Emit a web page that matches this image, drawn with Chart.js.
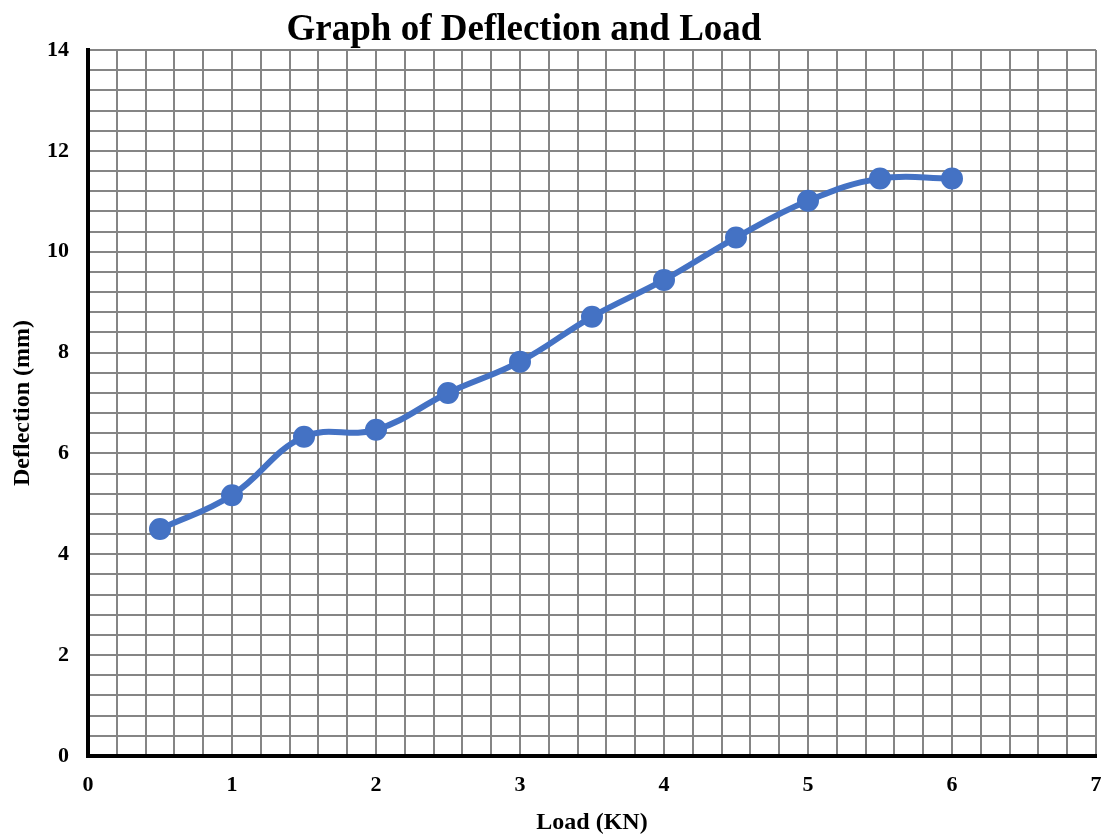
<!DOCTYPE html>
<html>
<head>
<meta charset="utf-8">
<script src="https://cdn.jsdelivr.net/npm/chart.js@4/dist/chart.umd.min.js"></script>
<style>
  html, body { margin: 0; padding: 0; background: #fff; }
  #wrap { position: relative; width: 1110px; height: 837px; }
</style>
</head>
<body>
<div id="wrap"><canvas id="c" width="1110" height="837"></canvas></div>
<script>
const chartTitle = 'Graph of Deflection and Load';
const xAxisTitle = 'Load (KN)';
const yAxisTitle = 'Deflection (mm)';
const loads = [0.5, 1, 1.5, 2, 2.5, 3, 3.5, 4, 4.5, 5, 5.5, 6];
const deflections = [4.5, 5.17, 6.33, 6.47, 7.2, 7.82, 8.71, 9.44, 10.28, 11.01, 11.45, 11.45];
const xRange = [0, 7];
const yRange = [0, 14];
const xGridStep = 0.2, xLabelStep = 1;
const yGridStep = 0.4, yLabelStep = 2;

const FONT = "'Liberation Serif', 'Times New Roman', serif";
const BLUE = '#4472C4';
const GRID = '#858585';

function isMultiple(v, step) {
  const r = v / step;
  return Math.abs(r - Math.round(r)) < 1e-6;
}

const titlePlugin = {
  id: 'topTitle',
  afterDraw(chart) {
    const ctx = chart.ctx;
    ctx.save();
    ctx.font = 'bold 37px ' + FONT;
    ctx.fillStyle = '#000';
    ctx.textAlign = 'center';
    ctx.textBaseline = 'alphabetic';
    ctx.fillText(chartTitle, 524, 40);
    ctx.restore();
  }
};

new Chart(document.getElementById('c'), {
  type: 'line',
  data: {
    datasets: [{
      label: yAxisTitle,
      data: loads.map((x, i) => ({ x: x, y: deflections[i] })),
      borderColor: BLUE,
      backgroundColor: BLUE,
      borderWidth: 6,
      pointRadius: 10,
      pointBorderWidth: 2,
      pointBorderColor: BLUE,
      pointBackgroundColor: BLUE,
      tension: 0.4,
      fill: false
    }]
  },
  options: {
    responsive: false,
    animation: false,
    layout: { padding: { top: 50, right: 14, left: 0, bottom: 0 } },
    plugins: {
      legend: { display: false },
      title: { display: false },
      tooltip: { enabled: false }
    },
    scales: {
      x: {
        type: 'linear',
        min: xRange[0], max: xRange[1],
        afterFit(s) { s.height = 81; s.paddingLeft = 0; s.paddingRight = 0; },
        grid: { color: GRID, lineWidth: 2, drawTicks: false },
        border: { color: '#000', width: 4 },
        ticks: {
          stepSize: xGridStep,
          autoSkip: false,
          maxRotation: 0,
          maxTicksLimit: 1000,
          padding: 16,
          color: '#000',
          font: { family: FONT, size: 22, weight: 'bold' },
          callback: v => isMultiple(v, xLabelStep) ? String(Math.round(v)) : ''
        },
        title: {
          display: true,
          text: xAxisTitle,
          color: '#000',
          padding: { top: 0, bottom: 0 },
          font: { family: FONT, size: 24, weight: 'bold' }
        }
      },
      y: {
        type: 'linear',
        min: yRange[0], max: yRange[1],
        afterFit(s) { s.width = 88; s.paddingTop = 0; s.paddingBottom = 0; },
        grid: { color: GRID, lineWidth: 2, drawTicks: false },
        border: { color: '#000', width: 4 },
        ticks: {
          stepSize: yGridStep,
          autoSkip: false,
          maxTicksLimit: 1000,
          padding: 19,
          color: '#000',
          font: { family: FONT, size: 22, weight: 'bold' },
          callback: v => isMultiple(v, yLabelStep) ? String(Math.round(v)) : ''
        },
        title: {
          display: true,
          text: yAxisTitle,
          color: '#000',
          padding: { top: 8, bottom: 0 },
          font: { family: FONT, size: 24, weight: 'bold' }
        }
      }
    }
  },
  plugins: [titlePlugin]
});
</script>
</body>
</html>
